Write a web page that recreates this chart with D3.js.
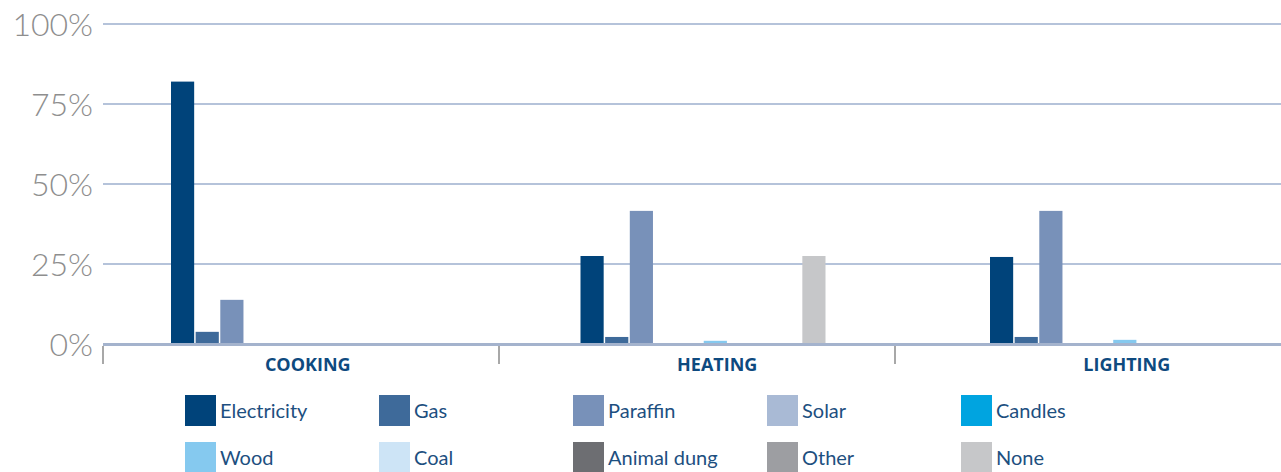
<!DOCTYPE html>
<html>
<head>
<meta charset="utf-8">
<script src="https://cdn.jsdelivr.net/npm/d3@7"></script>
<style>
  html, body { margin: 0; padding: 0; background: #ffffff; }
  svg { display: block; }
</style>
</head>
<body>
<svg id="chart" width="1281" height="472"></svg>
<script>
// Household energy source by use
const categories = ["COOKING", "HEATING", "LIGHTING"];
const series = ["Electricity", "Gas", "Paraffin", "Solar", "Candles",
                "Wood", "Coal", "Animal dung", "Other", "None"];
const seriesColors = ["#00437a", "#3e6a9a", "#7891b9", "#a9bad5", "#00a4e0",
                      "#85c9ef", "#cde4f6", "#6d6e72", "#9d9ea2", "#c6c7c9"];
const cookingValues  = [82, 3.8, 13.8, 0, 0, 0, 0, 0, 0, 0];
const heatingValues  = [27.5, 2.2, 41.6, 0, 0, 1, 0, 0, 0, 27.5];
const lightingValues = [27.2, 2.2, 41.6, 0, 0, 1.3, 0, 0, 0, 0];
const yTickValues = [0, 25, 50, 75, 100];

const valuesByCategory = [cookingValues, heatingValues, lightingValues];
const rows = [];
categories.forEach((c, ci) => {
  series.forEach((s, si) => rows.push({ category: c, series: s, value: valuesByCategory[ci][si] }));
});

const W = 1281;
const plotLeft = 103, plotRight = 1281, plotTop = 24, plotBottom = 344;

const svg = d3.select("#chart");

const y = d3.scaleLinear().domain([0, 100]).range([plotBottom, plotTop]);

// category band used for the bar groups and their labels
const xGroup = d3.scaleBand().domain(categories).range([plotLeft, plotLeft + 1228.5]);
// category band used for the axis separators
const xAxisBand = d3.scaleBand().domain(categories).range([plotLeft, plotRight + 10]);
const xInner = d3.scaleBand().domain(series).range([68, 313]).paddingInner(0.06);
const color = d3.scaleOrdinal().domain(series).range(seriesColors);

// gridlines
svg.append("g")
  .selectAll("line")
  .data(yTickValues.filter(d => d > 0))
  .join("line")
  .attr("x1", plotLeft).attr("x2", W)
  .attr("y1", d => y(d)).attr("y2", d => y(d))
  .attr("stroke", "#b5c3da").attr("stroke-width", 2);

// y axis labels
const yAxis = svg.append("g")
  .attr("transform", `translate(${plotLeft},0)`)
  .call(d3.axisLeft(y).tickValues(yTickValues).tickFormat(d => d + "%").tickSize(0).tickPadding(10));
yAxis.select(".domain").remove();
yAxis.selectAll("text")
  .attr("dy", "0.36em")
  .style("font-family", "Lato, 'Open Sans', sans-serif")
  .style("font-weight", 300)
  .style("font-size", "32px")
  .attr("fill", "#8e8e8e");

// bars
svg.append("g")
  .selectAll("rect")
  .data(rows.filter(d => d.value > 0))
  .join("rect")
  .attr("x", d => xGroup(d.category) + xInner(d.series))
  .attr("width", xInner.bandwidth())
  .attr("y", d => y(d.value))
  .attr("height", d => y(0) - y(d.value))
  .attr("fill", d => color(d.series));

// baseline
svg.append("line")
  .attr("x1", plotLeft).attr("x2", W)
  .attr("y1", y(0) + 0.5).attr("y2", y(0) + 0.5)
  .attr("stroke", "#a4b3cd").attr("stroke-width", 3);

// category separators
svg.append("g")
  .selectAll("line")
  .data(categories)
  .join("line")
  .attr("x1", d => xAxisBand(d)).attr("x2", d => xAxisBand(d))
  .attr("y1", y(0) + 2).attr("y2", y(0) + 20)
  .attr("stroke", "#a8a8a8").attr("stroke-width", 2);

// category labels
svg.append("g")
  .selectAll("text")
  .data(categories)
  .join("text")
  .attr("x", d => xGroup(d) + xGroup.bandwidth() / 2)
  .attr("y", 371)
  .attr("text-anchor", "middle")
  .style("font-family", "'Open Sans', Lato, sans-serif")
  .style("font-weight", 700)
  .style("font-size", "18px")
  .attr("fill", "#0e4a7f")
  .text(d => d);

// legend
const legendCols = d3.scaleBand().domain(d3.range(5)).range([185, 185 + 5 * 194]);
const legendRows = d3.scaleBand().domain([0, 1]).range([395, 395 + 2 * 47]);
const legend = svg.append("g")
  .selectAll("g")
  .data(series)
  .join("g")
  .attr("transform", (d, i) => `translate(${legendCols(i % 5)},${legendRows(Math.floor(i / 5))})`);
legend.append("rect")
  .attr("width", 31).attr("height", 31)
  .attr("fill", d => color(d));
legend.append("text")
  .attr("x", 35).attr("y", 23)
  .style("font-family", "Lato, 'Open Sans', sans-serif")
  .style("font-size", "20px")
  .attr("fill", "#1d4f80")
  .text(d => d);
</script>
</body>
</html>
